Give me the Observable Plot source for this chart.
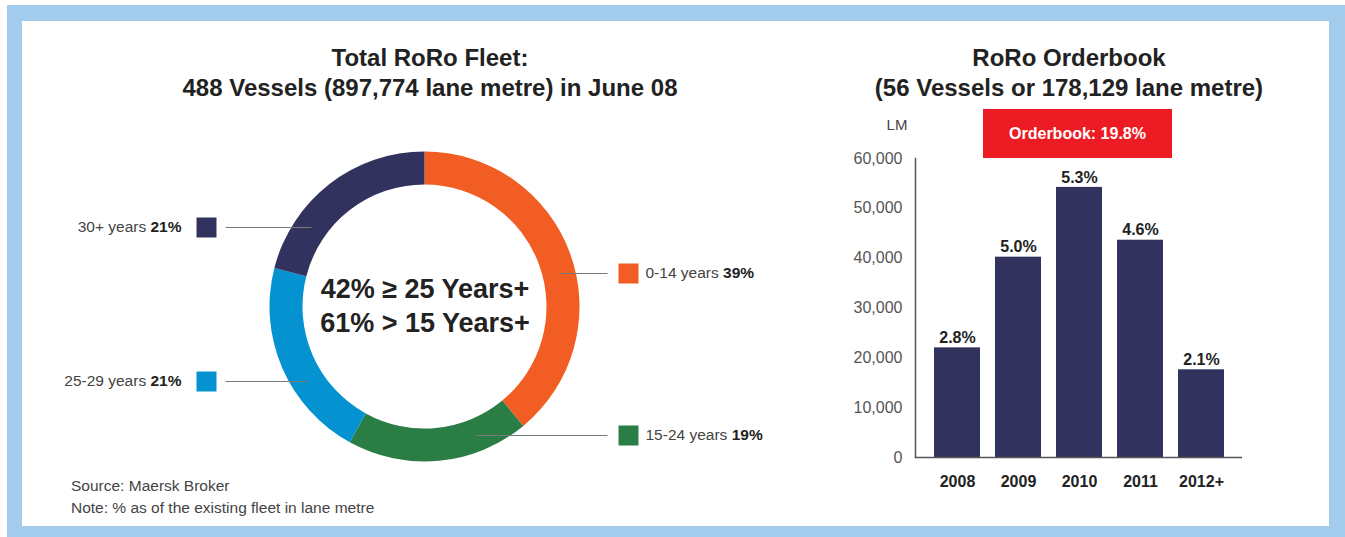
<!DOCTYPE html>
<html><head><meta charset="utf-8">
<script src="https://cdn.jsdelivr.net/npm/d3@7"></script>
<script src="https://cdn.jsdelivr.net/npm/@observablehq/plot@0.6"></script>
<style>
body{margin:0;background:#fff;font-family:"Liberation Sans",Arial,Helvetica,sans-serif;}
#page{position:relative;width:1345px;height:537px;overflow:hidden;background:#fff;}
.abs{position:absolute;}
#frame{left:7px;top:5px;width:1338px;height:532px;background:#A3CCEC;}
#inner{left:22px;top:21px;width:1307px;height:505px;background:#fff;}
.title{font-weight:bold;font-size:24px;color:#222;text-align:center;line-height:30px;white-space:nowrap;}
#t1{left:130px;top:43px;width:600px;}
#t2{left:819px;top:43px;width:500px;}
#src{left:71px;top:475px;font-size:15.5px;color:#444;line-height:22px;}
#lm{left:872px;top:116px;width:50px;text-align:center;font-size:15px;color:#444;}
#ob{left:983px;top:109px;width:189px;height:49px;line-height:49px;background:#ED1C24;color:#fff;font-weight:bold;font-size:16px;text-align:center;}
#donut{left:0;top:0;}
#bars{left:840px;top:100px;}
</style></head>
<body>
<div id="page">
  <div id="frame" class="abs"></div>
  <div id="inner" class="abs"></div>
  <div id="t1" class="abs title"></div>
  <div id="t2" class="abs title"></div>
  <div id="src" class="abs"></div>
  <div id="lm" class="abs"></div>
  <div id="ob" class="abs"></div>
  <div id="donut" class="abs"></div>
  <div id="bars" class="abs"></div>
</div>
<script>
// ---------- data ----------
const fleetTitle = ["Total RoRo Fleet:", "488 Vessels (897,774 lane metre) in June 08"];
const orderTitle = ["RoRo Orderbook", "(56 Vessels or 178,129 lane metre)"];
const ageGroups = ["0-14 years", "15-24 years", "25-29 years", "30+ years"];
const fleetShares = [39, 19, 21, 21];
const centerLines = ["42% \u2265 25 Years+", "61% > 15 Years+"];
const years = ["2008", "2009", "2010", "2011", "2012+"];
const laneMetres = [22000, 40200, 54200, 43600, 17600];
const orderShares = [2.8, 5.0, 5.3, 4.6, 2.1];
const yTicks = [0, 10000, 20000, 30000, 40000, 50000, 60000];
const yUnit = "LM";
const orderbookLabel = "Orderbook: 19.8%";
const notes = ["Source: Maersk Broker", "Note: % as of the existing fleet in lane metre"];

// ---------- layout / style ----------
const groupColors = ["#F15D22", "#2A7E45", "#0592D0", "#32325F"];
const barColor = "#32325F";
const FONT = "'Liberation Sans', Arial, Helvetica, sans-serif";
const cx = 424.5, cy = 306.5, R = 155, r = 122, rm = (R + r) / 2;
// legend row placement: side (+1 right, -1 left) and vertical offset from centre
const legendPlacement = [{side: 1, dy: -33.5}, {side: 1, dy: 128.5}, {side: -1, dy: 74.5}, {side: -1, dy: -79.5}];
const rightLineEnd = 607, rightSquare = 628, rightText = 645;
const leftLineEnd = 225, leftSquare = 206, leftText = 181;

// ---------- html text ----------
document.getElementById("t1").innerHTML = fleetTitle.join("<br>");
document.getElementById("t2").innerHTML = orderTitle.join("<br>");
document.getElementById("src").innerHTML = notes.join("<br>");
document.getElementById("lm").textContent = yUnit;
document.getElementById("ob").textContent = orderbookLabel;

// ---------- donut ----------
const fleet = ageGroups.map((g, i) => ({group: g, share: fleetShares[i]}));
const legendRows = fleet.map((d, i) => {
  const p = legendPlacement[i];
  const y = cy + p.dy;
  const mx = cx + p.side * Math.sqrt(rm * rm - p.dy * p.dy);
  return {
    ...d, side: p.side, y,
    x1: p.side > 0 ? mx : leftLineEnd,
    x2: p.side > 0 ? rightLineEnd : mx,
    sq: p.side > 0 ? rightSquare : leftSquare,
    tx: p.side > 0 ? rightText : leftText,
    label: d.group + "|" + d.share + "%"
  };
});

function donutMark(index, scales) {
  const g = d3.create("svg:g").attr("transform", `translate(${cx},${cy})`);
  const arcs = d3.pie().sort(null).value(d => d.share)(fleet);
  const arc = d3.arc().innerRadius(r).outerRadius(R);
  g.selectAll("path").data(arcs).join("path")
    .attr("d", arc)
    .attr("fill", d => scales.color(d.data.group));
  return g.node();
}

const donut = Plot.plot({
  width: 840, height: 537, margin: 0,
  x: {type: "identity", axis: null}, y: {type: "identity", axis: null},
  color: {domain: ageGroups, range: groupColors},
  style: {background: "transparent", fontFamily: FONT, overflow: "visible"},
  marks: [
    donutMark,
    Plot.link(legendRows, {x1: "x1", x2: "x2", y1: "y", y2: "y", stroke: "#7a7a7a", strokeWidth: 1}),
    Plot.dot(legendRows, {x: "sq", y: "y", symbol: "square", r: Math.sqrt(400 / Math.PI), fill: "group", stroke: null}),
    Plot.text(legendRows.filter(d => d.side > 0), {x: "tx", y: "y", text: "label", textAnchor: "start", fontSize: 15.5, fill: "#444"}),
    Plot.text(legendRows.filter(d => d.side < 0), {x: "tx", y: "y", text: "label", textAnchor: "end", fontSize: 15.5, fill: "#444"}),
    Plot.text([centerLines.join("\n")], {x: () => cx, y: () => cy - 3, text: d => d, lineHeight: 1.25, fontSize: 27, fontWeight: "bold", fill: "#222"})
  ]
});
d3.select(donut).selectAll("text").each(function () {
  const t = this.textContent;
  if (t.includes("|")) {
    const [a, b] = t.split("|");
    this.textContent = "";
    d3.select(this).append("tspan").text(a + " ");
    d3.select(this).append("tspan").attr("font-weight", "bold").attr("fill", "#222").text(b);
  }
});
document.getElementById("donut").append(donut);

// ---------- bars ----------
const bars = years.map((y, i) => ({year: y, lm: laneMetres[i], share: orderShares[i]}));
const barChart = Plot.plot({
  width: 420, height: 400,
  marginLeft: 75, marginRight: 18, marginTop: 58, marginBottom: 43,
  style: {background: "transparent", fontFamily: FONT, overflow: "visible"},
  x: {domain: years, paddingInner: 0.252, paddingOuter: 0.285},
  y: {domain: [0, 60000]},
  marks: [
    Plot.barY(bars, {x: "year", y: "lm", fill: barColor}),
    Plot.axisY({ticks: yTicks, tickSize: 0, tickPadding: 13, tickFormat: d3.format(","), fill: "#555", fontSize: 16, label: null}),
    Plot.axisX({tickSize: 0, tickPadding: 18, fontWeight: "bold", fill: "#222", fontSize: 16, label: null}),
    Plot.ruleY([0], {stroke: "#555", strokeWidth: 1.5}),
    Plot.frame({anchor: "left", stroke: "#555", strokeWidth: 1.5}),
    Plot.text(bars, {x: "year", y: "lm", text: d => d.share.toFixed(1) + "%", dy: -10, fontWeight: "bold", fontSize: 16, fill: "#222"})
  ]
});
document.getElementById("bars").append(barChart);
</script>
</body></html>
